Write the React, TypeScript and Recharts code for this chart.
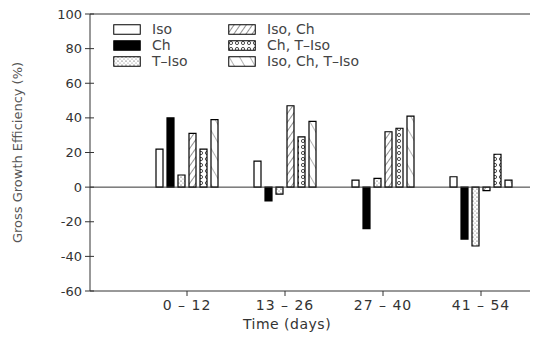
import React from 'react'
import { BarChart, Bar, XAxis, YAxis, ReferenceLine } from 'recharts'

const categories = ['0 – 12', '13 – 26', '27 – 40', '41 – 54']
const iso = [22, 15, 4, 6]
const ch = [40, -8, -24, -30]
const tIso = [7, -4, 5, -34]
const isoCh = [31, 47, 32, -2]
const chTIso = [22, 29, 34, 19]
const isoChTIso = [39, 38, 41, 4]
const yTicks = [-60, -40, -20, 0, 20, 40, 60, 80, 100]

const series = [
  { key: 'iso', name: 'Iso', fill: '#fff' },
  { key: 'ch', name: 'Ch', fill: '#000' },
  { key: 'tIso', name: 'T–Iso', fill: 'url(#pTIso)' },
  { key: 'isoCh', name: 'Iso, Ch', fill: 'url(#pIsoCh)' },
  { key: 'chTIso', name: 'Ch, T–Iso', fill: 'url(#pChTIso)' },
  { key: 'isoChTIso', name: 'Iso, Ch, T–Iso', fill: 'url(#pAll)' },
]

const data = categories.map((c, i) => ({
  cat: c, iso: iso[i], ch: ch[i], tIso: tIso[i], isoCh: isoCh[i], chTIso: chTIso[i], isoChTIso: isoChTIso[i],
}))

const AXIS_X = 90
const FONT = '"DejaVu Sans", sans-serif'
const INK = '#333'

const YTick = (props: any) => {
  const { y, payload } = props
  return (
    <g>
      <line x1={AXIS_X - 5} x2={AXIS_X + 4} y1={y} y2={y} stroke={INK} strokeWidth={1} />
      <text x={AXIS_X - 8} y={y} dy="0.35em" textAnchor="end" fontSize={13} fill={INK} fontFamily={FONT}>
        {payload.value}
      </text>
    </g>
  )
}

const Swatch = ({ fill }: { fill: string }) => (
  <svg width={28} height={11} style={{ display: 'block' }}>
    <rect x={0.75} y={0.75} width={26.5} height={9.5} fill={fill} stroke="#000" strokeWidth={1} />
  </svg>
)

const LegendBox = () => {
  const col = (items: typeof series) => (
    <div>
      {items.map((s) => (
        <div key={s.key} style={{ display: 'flex', alignItems: 'center', height: 16 }}>
          <Swatch fill={s.fill} />
          <span style={{ marginLeft: 11, fontSize: 14, color: '#444', fontFamily: FONT, lineHeight: '16px' }}>{s.name}</span>
        </div>
      ))}
    </div>
  )
  return (
    <div style={{ position: 'absolute', top: 21, left: 113, display: 'flex' }}>
      <div style={{ width: 115 }}>{col(series.slice(0, 3))}</div>
      {col(series.slice(3))}
    </div>
  )
}

const App: React.FC = () => (
  <div style={{ position: 'absolute', left: 0, top: 0, width: 539, height: 339, background: '#fff' }}>
    <BarChart width={539} height={339} data={data} barSize={7} barGap={4}
      margin={{ top: 14, right: 9, left: 0, bottom: 8 }}>
      <defs>
        <pattern id="pTIso" width={4} height={4} patternUnits="userSpaceOnUse">
          <rect width={4} height={4} fill="#fff" />
          <circle cx={1} cy={1} r={0.6} fill="#333" />
          <circle cx={3} cy={3} r={0.5} fill="#666" />
        </pattern>
        <pattern id="pIsoCh" width={5} height={5} patternUnits="userSpaceOnUse" patternTransform="rotate(35)">
          <rect width={5} height={5} fill="#fff" />
          <line x1={0} y1={0} x2={0} y2={5} stroke="#222" strokeWidth={1} />
        </pattern>
        <pattern id="pChTIso" width={6} height={6} patternUnits="userSpaceOnUse">
          <rect width={6} height={6} fill="#fff" />
          <circle cx={3} cy={3} r={1.6} fill="none" stroke="#222" strokeWidth={0.8} />
        </pattern>
        <pattern id="pAll" width={9} height={9} patternUnits="userSpaceOnUse" patternTransform="rotate(-30)">
          <rect width={9} height={9} fill="#fff" />
          <line x1={0} y1={0} x2={0} y2={9} stroke="#444" strokeWidth={0.8} />
        </pattern>
      </defs>
      <XAxis dataKey="cat" height={40} padding={{ left: 48, right: 0 }} tickSize={5} tickMargin={4}
        axisLine={{ stroke: INK }} tickLine={{ stroke: INK }}
        tick={{ fontSize: 14, fill: INK, fontFamily: FONT, letterSpacing: 1 }}
        label={{ value: 'Time (days)', position: 'insideBottom', offset: 2, dx: -23, fontSize: 14, fill: INK,
          fontFamily: FONT, letterSpacing: 0.5 }} />
      <YAxis width={AXIS_X} domain={[-60, 100]} ticks={yTicks} interval={0} tickLine={false}
        axisLine={{ stroke: INK }} tick={<YTick />}
        label={{ value: 'Gross Growth Efficiency (%)', angle: -90, position: 'insideLeft', offset: 17,
          style: { textAnchor: 'middle' }, fontSize: 13, fill: '#555', fontFamily: FONT }} />
      <ReferenceLine y={100} stroke={INK} />
      <ReferenceLine y={0} stroke={INK} />
      {series.map((s) => (
        <Bar key={s.key} dataKey={s.key} name={s.name} fill={s.fill} stroke="#000" strokeWidth={1.2}
          isAnimationActive={false} />
      ))}
    </BarChart>
    <LegendBox />
  </div>
)

export default App
